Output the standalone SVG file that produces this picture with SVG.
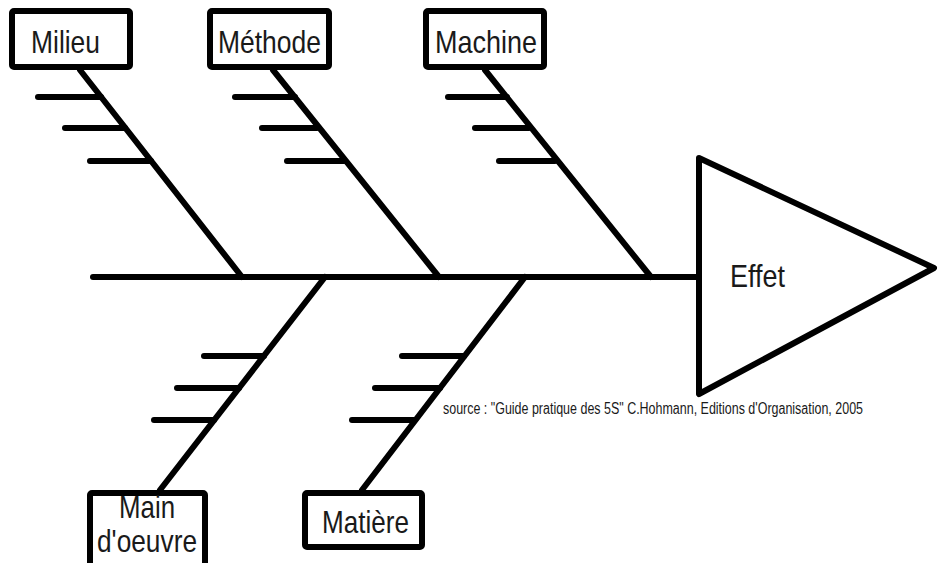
<svg xmlns="http://www.w3.org/2000/svg" width="940" height="563" viewBox="0 0 940 563">
  <style>
    .bone { stroke: #000; stroke-width: 6; stroke-linecap: round; fill: none; }
    .box { fill: #fff; stroke: #000; stroke-width: 6; }
    .label { font-family: "Liberation Sans", Arial, sans-serif; font-size: 32px; fill: #1a1a1a; }
    .note { font-family: "Liberation Sans", Arial, sans-serif; font-size: 16px; fill: #1a1a1a; }
  </style>
  <rect width="940" height="563" fill="#fff"/>

  <!-- spine and bones -->
  <g id="connectors">
    <line class="bone" x1="93" y1="277" x2="699" y2="277"/>
    <!-- Milieu -->
    <line class="bone" x1="80" y1="70" x2="242" y2="277"/>
    <line class="bone" x1="38" y1="97" x2="101" y2="97"/>
    <line class="bone" x1="65" y1="128" x2="125" y2="128"/>
    <line class="bone" x1="90" y1="161" x2="151" y2="161"/>
    <!-- Méthode -->
    <line class="bone" x1="273" y1="70" x2="439" y2="277"/>
    <line class="bone" x1="235" y1="97" x2="295" y2="97"/>
    <line class="bone" x1="262" y1="128" x2="317" y2="128"/>
    <line class="bone" x1="287" y1="161" x2="344" y2="161"/>
    <!-- Machine -->
    <line class="bone" x1="485" y1="70" x2="651" y2="277"/>
    <line class="bone" x1="448" y1="97" x2="507" y2="97"/>
    <line class="bone" x1="475" y1="128" x2="529" y2="128"/>
    <line class="bone" x1="499" y1="161" x2="555" y2="161"/>
    <!-- Main d'oeuvre -->
    <line class="bone" x1="325" y1="277" x2="160" y2="490"/>
    <line class="bone" x1="204" y1="356" x2="264" y2="356"/>
    <line class="bone" x1="177" y1="388" x2="239" y2="388"/>
    <line class="bone" x1="154" y1="420" x2="214" y2="420"/>
    <!-- Matière -->
    <line class="bone" x1="525" y1="277" x2="362" y2="490"/>
    <line class="bone" x1="402" y1="356" x2="464" y2="356"/>
    <line class="bone" x1="375" y1="388" x2="440" y2="388"/>
    <line class="bone" x1="352" y1="420" x2="414" y2="420"/>
  </g>

  <g id="milieu">
    <rect class="box" x="12" y="11" width="118" height="56" rx="2"/>
    <text class="label" x="31" y="53" textLength="69" lengthAdjust="spacingAndGlyphs">Milieu</text>
  </g>
  <g id="methode">
    <rect class="box" x="210" y="11" width="119" height="56" rx="2"/>
    <text class="label" x="218" y="53" textLength="103" lengthAdjust="spacingAndGlyphs">Méthode</text>
  </g>
  <g id="machine">
    <rect class="box" x="426" y="11" width="118" height="56" rx="2"/>
    <text class="label" x="435" y="53" textLength="102" lengthAdjust="spacingAndGlyphs">Machine</text>
  </g>
  <g id="main-oeuvre">
    <rect class="box" x="90" y="493" width="115" height="80" rx="2"/>
    <text class="label" x="119" y="518" textLength="56" lengthAdjust="spacingAndGlyphs">Main</text>
    <text class="label" x="97" y="552" textLength="100" lengthAdjust="spacingAndGlyphs">d'oeuvre</text>
  </g>
  <g id="matiere">
    <rect class="box" x="305" y="493" width="117" height="54" rx="2"/>
    <text class="label" x="322" y="533" textLength="87" lengthAdjust="spacingAndGlyphs">Matière</text>
  </g>
  <g id="effet">
    <polygon class="box" points="699,158 934,268 699,394" stroke-linejoin="round"/>
    <text class="label" x="730" y="287" textLength="55" lengthAdjust="spacingAndGlyphs">Effet</text>
  </g>

  <text class="note" x="443" y="414" textLength="420" lengthAdjust="spacingAndGlyphs">source : "Guide pratique des 5S" C.Hohmann, Editions d'Organisation, 2005</text>
</svg>
